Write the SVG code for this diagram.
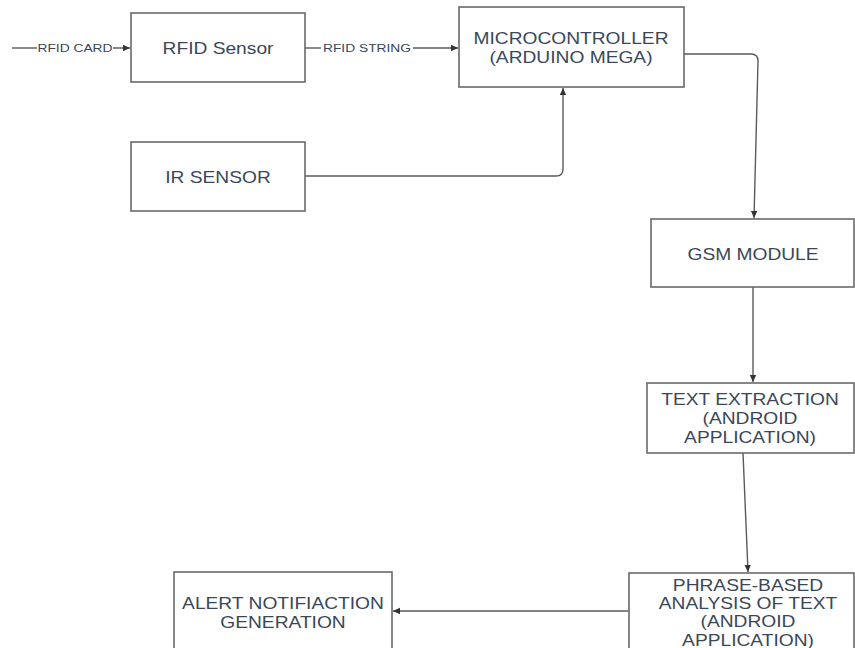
<svg xmlns="http://www.w3.org/2000/svg" width="855" height="648" viewBox="0 0 855 648">
<defs>
<style>
.box{fill:#fff;stroke:#6a6a6a;stroke-width:1.6}
.t{font-family:"Liberation Sans",Arial,sans-serif;font-size:16px;fill:#3a4759;text-anchor:middle}
.s{font-family:"Liberation Sans",Arial,sans-serif;font-size:11.5px;fill:#3a4759;text-anchor:middle}
.c{fill:none;stroke:#5a5a5a;stroke-width:1.4}
</style>
<marker id="ah" markerWidth="8" markerHeight="8" refX="7" refY="4" orient="auto" markerUnits="userSpaceOnUse">
<path d="M0,0.8 L7,4 L0,7.2 Z" fill="#333"/>
</marker>
</defs>
<rect width="855" height="648" fill="#fff"/>
<g id="connectors">
<path class="c" d="M12,48 H37"/>
<path class="c" d="M113,48 H130" marker-end="url(#ah)"/>
<text class="s" transform="translate(75,52) scale(1.2,1)">RFID CARD</text>
<path class="c" d="M305,48 H321"/>
<path class="c" d="M413,48 H458" marker-end="url(#ah)"/>
<text class="s" transform="translate(367,52) scale(1.2,1)">RFID STRING</text>
<path class="c" d="M305,176 H556 Q563,176 563,169 V88" marker-end="url(#ah)"/>
<path class="c" d="M684,54 H751 Q758,54 758,61 L754,218" marker-end="url(#ah)"/>
<path class="c" d="M753,287 V382" marker-end="url(#ah)"/>
<path class="c" d="M743,453 L748,572" marker-end="url(#ah)"/>
<path class="c" d="M629,611 H393" marker-end="url(#ah)"/>
</g>
<g id="rfid-sensor">
<rect class="box" x="131" y="13" width="174" height="69"/>
<text class="t" transform="translate(218,54) scale(1.2,1)">RFID Sensor</text>
</g>
<g id="ir-sensor">
<rect class="box" x="131" y="142" width="174" height="69"/>
<text class="t" transform="translate(218,183) scale(1.2,1)">IR SENSOR</text>
</g>
<g id="microcontroller">
<rect class="box" x="459" y="7" width="225" height="80"/>
<text class="t" transform="translate(571,44) scale(1.2,1)">MICROCONTROLLER</text>
<text class="t" transform="translate(571,63) scale(1.2,1)">(ARDUINO MEGA)</text>
</g>
<g id="gsm-module">
<rect class="box" x="651" y="219" width="203" height="68"/>
<text class="t" transform="translate(753,260) scale(1.2,1)">GSM MODULE</text>
</g>
<g id="text-extraction">
<rect class="box" x="647" y="383" width="207" height="70"/>
<text class="t" transform="translate(750,405) scale(1.2,1)">TEXT EXTRACTION</text>
<text class="t" transform="translate(750,424) scale(1.2,1)">(ANDROID</text>
<text class="t" transform="translate(750,443) scale(1.2,1)">APPLICATION)</text>
</g>
<g id="phrase-analysis">
<rect class="box" x="629" y="573" width="225" height="80"/>
<text class="t" transform="translate(748,591) scale(1.2,1)">PHRASE-BASED</text>
<text class="t" transform="translate(748,609) scale(1.2,1)">ANALYSIS OF TEXT</text>
<text class="t" transform="translate(748,627) scale(1.2,1)">(ANDROID</text>
<text class="t" transform="translate(748,646) scale(1.2,1)">APPLICATION)</text>
</g>
<g id="alert-notification">
<rect class="box" x="174" y="572" width="218" height="80"/>
<text class="t" transform="translate(283,609) scale(1.2,1)">ALERT NOTIFIACTION</text>
<text class="t" transform="translate(283,628) scale(1.2,1)">GENERATION</text>
</g>
</svg>
